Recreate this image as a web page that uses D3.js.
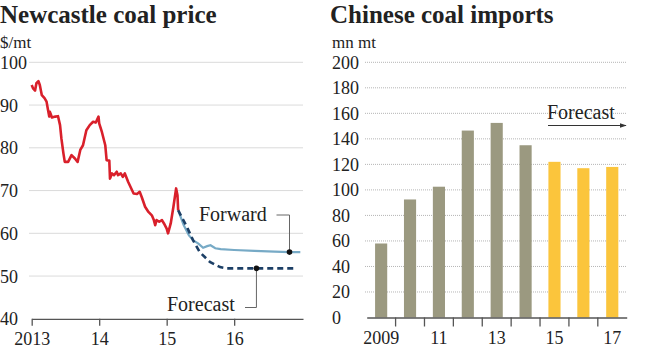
<!DOCTYPE html>
<html><head><meta charset="utf-8">
<script src="https://cdn.jsdelivr.net/npm/d3@7"></script>
<style>
body{margin:0;background:#fff}
svg{display:block}
text{font-family:"Liberation Serif",serif;fill:#222}
</style>
</head><body><svg width="650" height="350"></svg>
<script>
// ---------- Data: Newcastle coal price ($/mt) ----------
const priceYears = [2013.0,2013.02,2013.05,2013.07,2013.10,2013.12,2013.15,2013.19,2013.22,2013.24,2013.26,2013.27,2013.30,2013.35,2013.39,2013.42,2013.44,2013.47,2013.49,2013.54,2013.59,2013.64,2013.68,2013.72,2013.76,2013.81,2013.86,2013.91,2013.95,2013.99,2014.00,2014.04,2014.09,2014.11,2014.15,2014.16,2014.19,2014.22,2014.26,2014.28,2014.32,2014.35,2014.38,2014.43,2014.51,2014.56,2014.60,2014.63,2014.68,2014.73,2014.78,2014.81,2014.83,2014.85,2014.89,2014.93,2014.96,2015.00,2015.02,2015.06,2015.10,2015.14,2015.16,2015.17];
const priceValues = [94.7,93.9,93.4,95.1,95.6,94.7,92.3,91.6,90.8,89.0,87.3,88.4,87.1,87.3,87.4,85.3,82.2,78.7,76.7,76.7,78.3,77.5,76.7,79.5,80.6,84.1,85.3,86.1,85.9,87.3,85.7,83.7,80.6,77.1,77.0,72.8,74.0,73.6,74.4,73.6,74.0,73.2,74.0,72.0,69.3,69.2,69.7,68.5,66.2,65.0,64.2,63.1,61.9,63.1,62.7,63.1,62.3,61.1,60.0,62.3,66.2,70.5,68.9,65.4];
const forwardYears = [2015.17,2015.25,2015.33,2015.40,2015.47,2015.54,2015.60,2015.65,2015.72,2015.80,2016.0,2016.3,2016.6,2016.82,2016.98];
const forwardValues = [65.4,62.0,59.5,58.3,57.6,56.6,57.0,57.2,56.5,56.3,56.1,55.9,55.7,55.6,55.6];
const forecastYears = [2015.17,2015.30,2015.39,2015.49,2015.64,2015.79,2015.89,2016.88];
const forecastValues = [65.4,61.5,58.4,55.6,53.3,52.1,51.8,51.8];
const priceYTicks = [40,50,60,70,80,90,100];
const priceXTicks = [2013,2014,2015,2016];
const priceXLabels = ["2013","14","15","16"];
const forwardDot = [2016.82,55.6];
const forecastDot = [2016.33,51.8];

// ---------- Data: Chinese coal imports (mn mt) ----------
const importYears = ["2009","2010","2011","2012","2013","2014","2015","2016","2017"];
const importValues = [58,92.5,102.5,146.5,152.5,135,122,117,118];
const importIsForecast = [false,false,false,false,false,false,true,true,true];
const importYTicks = [0,20,40,60,80,100,120,140,160,180,200];
const importXLabels = ["2009","","11","","13","","15","","17"];

const svg = d3.select("svg");
const gridColor = "#b5b5b5", axisColor = "#555";

// arrow marker
svg.append("defs").append("marker")
  .attr("id","arr").attr("viewBox","0 0 10 10").attr("refX",9).attr("refY",5)
  .attr("markerWidth",6).attr("markerHeight",6).attr("orient","auto")
  .append("path").attr("d","M0,1.5L10,5L0,8.5Z").attr("fill","#333");

// ================= LEFT CHART =================
const x1 = d3.scaleLinear().domain([2013,2017.02]).range([31.7,303]);
const y1 = d3.scaleLinear().domain([40,100]).range([318.8,62.3]);

svg.append("text").attr("x",0).attr("y",23).attr("font-size",25).attr("font-weight","bold")
  .text("Newcastle coal price");
svg.append("text").attr("x",0).attr("y",48).attr("font-size",17).text("$/mt");

// gridlines
svg.append("g").selectAll("line").data(priceYTicks.filter(d=>d>40)).join("line")
  .attr("x1",29.5).attr("x2",303).attr("y1",d=>y1(d)).attr("y2",d=>y1(d))
  .attr("stroke",gridColor).attr("stroke-width",1).attr("stroke-dasharray","1,1");
// y labels
svg.append("g").selectAll("text").data(priceYTicks).join("text")
  .attr("x",0).attr("y",d=>y1(d)).attr("dy","0.36em").attr("font-size",18).text(d=>d);

// x axis
const ax1 = svg.append("g").attr("transform",`translate(0,${y1(40)})`)
  .call(d3.axisBottom(x1).tickValues(priceXTicks).tickSize(7).tickSizeOuter(0)
    .tickFormat((d,i)=>priceXLabels[i]));
ax1.attr("font-family",null);
ax1.select(".domain").attr("stroke",axisColor).attr("stroke-width",1.3);
ax1.selectAll(".tick line").attr("stroke",axisColor).attr("stroke-width",1.3);
ax1.selectAll(".tick text").style("font-family","Liberation Serif").attr("font-size",18)
  .attr("fill","#222").attr("y",26).attr("dy",0);

const line1 = d3.line().x(d=>x1(d[0])).y(d=>y1(d[1]));
svg.append("path").datum(forwardYears.map((d,i)=>[d,forwardValues[i]]))
  .attr("d",line1).attr("fill","none").attr("stroke","#77aac6").attr("stroke-width",2.2);
svg.append("path").datum(forecastYears.map((d,i)=>[d,forecastValues[i]]))
  .attr("d",line1).attr("fill","none").attr("stroke","#1c3f66").attr("stroke-width",2.6)
  .attr("stroke-dasharray","6,4");
svg.append("path").datum(priceYears.map((d,i)=>[d,priceValues[i]]))
  .attr("d",line1).attr("fill","none").attr("stroke","#d9202b").attr("stroke-width",2.6)
  .attr("stroke-linejoin","round");

// annotations
const ann = svg.append("g").attr("stroke","#666").attr("stroke-width",1).attr("fill","none");
ann.append("path").attr("d",`M276.5,215H${x1(forwardDot[0])}V${y1(forwardDot[1])}`);
ann.append("path").attr("d",`M245,307.5H${x1(forecastDot[0])}V${y1(forecastDot[1])}`);
svg.append("circle").attr("cx",x1(forwardDot[0])).attr("cy",y1(forwardDot[1])).attr("r",2.8).attr("fill","#111");
svg.append("circle").attr("cx",x1(forecastDot[0])).attr("cy",y1(forecastDot[1])).attr("r",2.8).attr("fill","#111");
svg.append("text").attr("x",199).attr("y",221).attr("font-size",20).text("Forward");
svg.append("text").attr("x",167).attr("y",311).attr("font-size",20).text("Forecast");

// ================= RIGHT CHART =================
const x2 = d3.scaleBand().domain(importYears).range([366.7,626.7]).paddingInner(0.58).paddingOuter(0.29);
const y2 = d3.scaleLinear().domain([0,200]).range([317.5,62.3]);

svg.append("text").attr("x",330).attr("y",23).attr("font-size",25).attr("font-weight","bold")
  .text("Chinese coal imports");
svg.append("text").attr("x",332).attr("y",48).attr("font-size",17).text("mn mt");

svg.append("g").selectAll("line").data(importYTicks.filter(d=>d>0)).join("line")
  .attr("x1",365).attr("x2",627).attr("y1",d=>y2(d)).attr("y2",d=>y2(d))
  .attr("stroke",gridColor).attr("stroke-width",1).attr("stroke-dasharray","1,1");
svg.append("g").selectAll("text").data(importYTicks).join("text")
  .attr("x",332).attr("y",d=>y2(d)).attr("dy","0.36em").attr("font-size",18).text(d=>d);

// bars
svg.append("g").selectAll("rect").data(importYears).join("rect")
  .attr("x",d=>x2(d)).attr("width",x2.bandwidth())
  .attr("y",(d,i)=>y2(importValues[i])).attr("height",(d,i)=>y2(0)-y2(importValues[i]))
  .attr("fill",(d,i)=>importIsForecast[i] ? "#fbc53c" : "#9b9980");

// x axis (labels centred under bars, ticks between bars)
const ax2 = svg.append("g").attr("transform",`translate(0,${y2(0)})`)
  .call(d3.axisBottom(x2).tickSize(0).tickSizeOuter(0).tickFormat((d,i)=>importXLabels[i]));
ax2.attr("font-family",null);
ax2.select(".domain").attr("stroke",axisColor).attr("stroke-width",1.3);
ax2.selectAll(".tick text").style("font-family","Liberation Serif").attr("font-size",18)
  .attr("fill","#222").attr("y",26).attr("dy",0);
const gap = (x2.step()-x2.bandwidth())/2;
ax2.append("g").selectAll("line").data(importYears.slice(1)).join("line")
  .attr("x1",d=>x2(d)-gap).attr("x2",d=>x2(d)-gap).attr("y1",0).attr("y2",9)
  .attr("stroke",axisColor).attr("stroke-width",1.3);

// forecast label + arrow
svg.append("text").attr("x",547).attr("y",119).attr("font-size",20).text("Forecast");
svg.append("line").attr("x1",548).attr("x2",626).attr("y1",125.5).attr("y2",125.5)
  .attr("stroke","#333").attr("stroke-width",1.2).attr("marker-end","url(#arr)");
</script>
</body></html>
